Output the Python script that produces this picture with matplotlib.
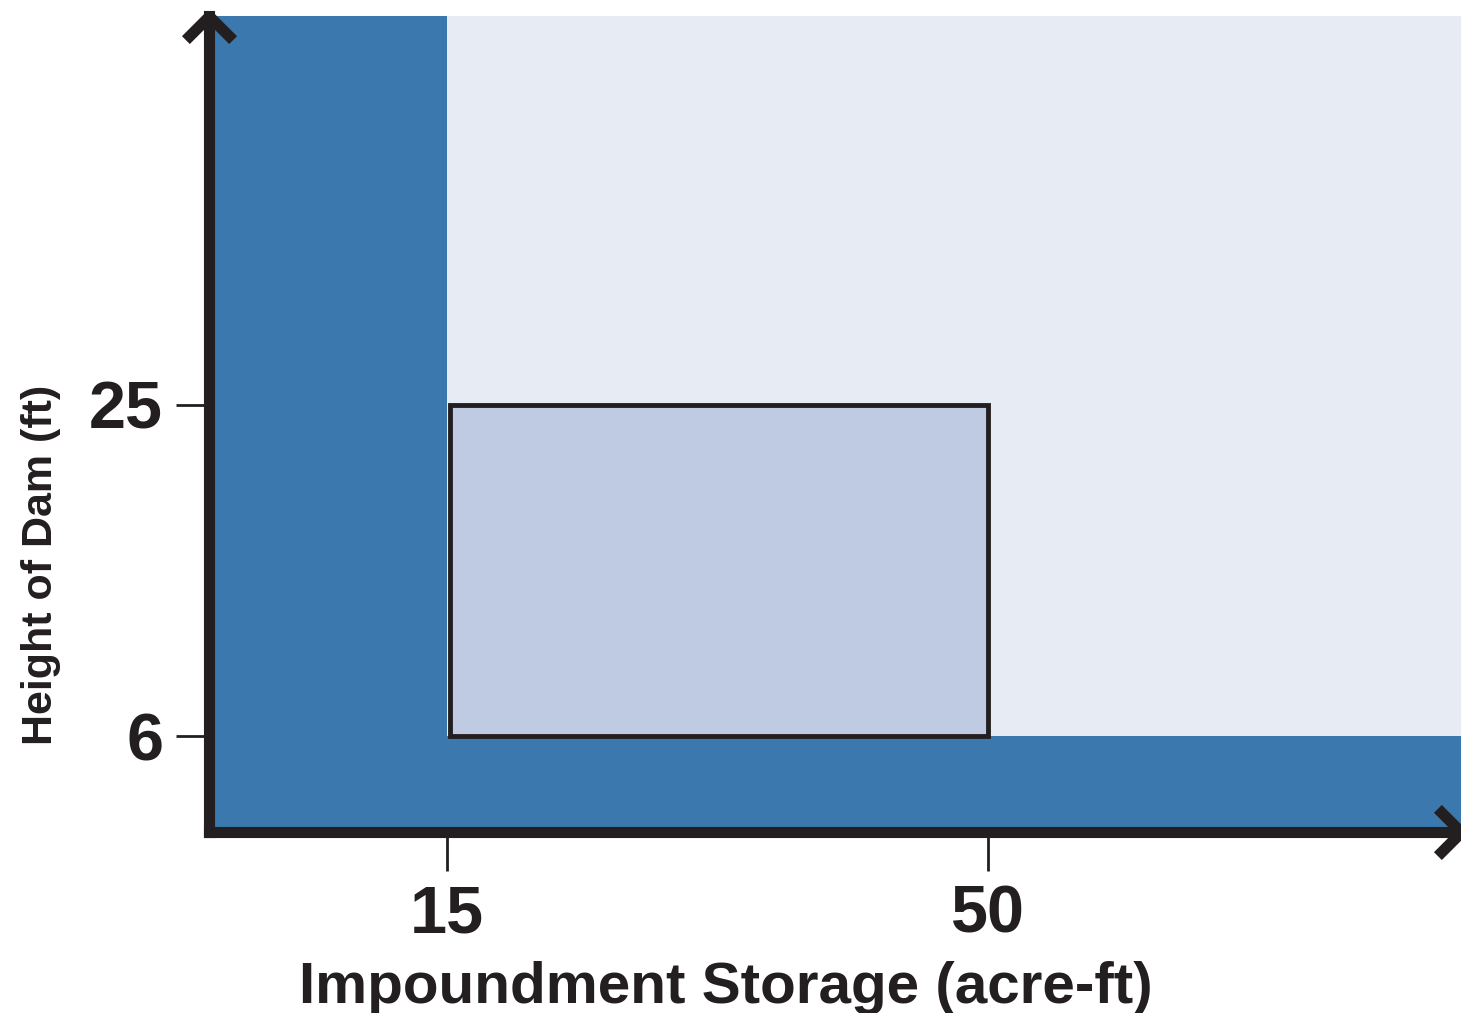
import matplotlib.pyplot as plt
from matplotlib.patches import Rectangle

plt.rcParams['font.family'] = ['Liberation Sans', 'DejaVu Sans']
plt.rcParams['font.weight'] = 'bold'

# thresholds (acre-ft, ft)
storage_ticks = [15, 50]
height_ticks = [6, 25]
storage_labels = ['15', '50']
height_labels = ['6', '25']
x_min, x_max = -0.4, 80.6
y_min, y_max = 0.5, 47.3

dark_blue = '#3a78ad'
light_bg = '#e6ebf4'
box_fill = '#bfcbe2'
ink = '#231f20'

fig = plt.figure(figsize=(14.61, 10.13), dpi=100)
ax = fig.add_axes([209 / 1461, 1 - 832 / 1013, 1 - 209 / 1461, (832 - 16) / 1013])
ax.set_facecolor(dark_blue)
ax.set_xlim(x_min, x_max)
ax.set_ylim(y_min, y_max)

# region above both thresholds
ax.add_patch(Rectangle((storage_ticks[0], height_ticks[0]),
                       x_max - storage_ticks[0], y_max - height_ticks[0],
                       facecolor=light_bg, edgecolor='none', zorder=1))
# the small-dam box
ax.add_patch(Rectangle((storage_ticks[0] + 0.2, height_ticks[0]),
                       storage_ticks[1] - storage_ticks[0] - 0.2,
                       height_ticks[1] - height_ticks[0],
                       facecolor=box_fill, edgecolor=ink, linewidth=3.5, zorder=2))

for s in ['top', 'right']:
    ax.spines[s].set_visible(False)
for s in ['left', 'bottom']:
    ax.spines[s].set_linewidth(8)
    ax.spines[s].set_color(ink)
    ax.spines[s].set_zorder(5)

ax.set_xticks(storage_ticks, storage_labels)
ax.set_yticks(height_ticks, height_labels)
ax.tick_params(axis='x', length=28, width=2, color=ink, labelsize=48, pad=10, labelcolor=ink)
ax.tick_params(axis='y', length=24, width=2, color=ink, labelsize=48, pad=9, labelcolor=ink)

ax.set_xlabel('Impoundment Storage (acre-ft)', fontsize=42, fontweight='bold', color=ink)
ax.xaxis.label.set_va('baseline')
ax.xaxis.set_label_coords(0.413, -0.2096)
ax.set_ylabel('Height of Dam (ft)', fontsize=31, fontweight='bold', color=ink)
ax.yaxis.label.set_va('baseline')
ax.yaxis.set_label_coords(-0.1254, 0.327)

# open chevron arrow heads on the axes
chev_up = [(-1, -1), (0, 0), (1, -1)]
chev_right = [(-1, 1), (0, 0), (-1, -1)]
ax.plot(0, 1, marker=chev_up, markersize=34, mfc='none', mec=ink, mew=8,
        transform=ax.transAxes, clip_on=False, zorder=6)
ax.plot(1, 0, marker=chev_right, markersize=34, mfc='none', mec=ink, mew=8,
        transform=ax.transAxes, clip_on=False, zorder=6)

fig.savefig('out.png', dpi=100)
